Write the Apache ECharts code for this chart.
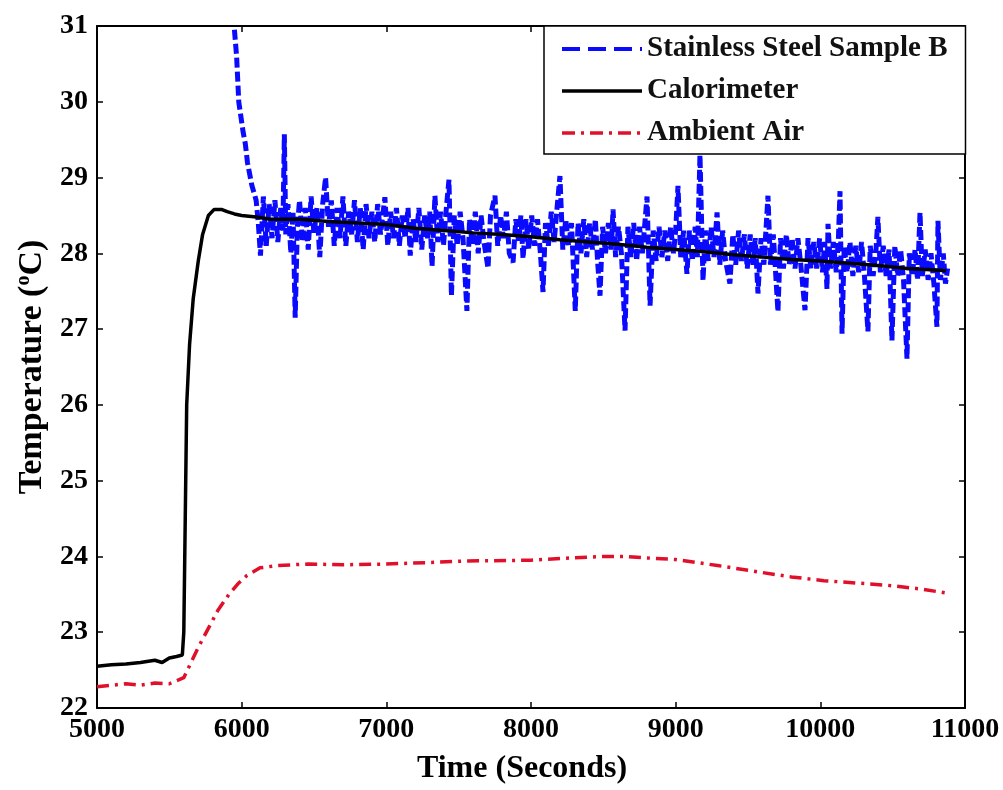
<!DOCTYPE html>
<html>
<head>
<meta charset="utf-8">
<script src="https://cdn.jsdelivr.net/npm/echarts@6/dist/echarts.min.js"></script>
<style>
html,body{margin:0;padding:0;background:#fff;}
#chart{width:1003px;height:790px;}
</style>
</head>
<body>
<div id="chart"></div>
<script>
// ---- Data ----
const seriesNames = ['Stainless Steel Sample B', 'Calorimeter', 'Ambient Air'];

const xTickValues = [5000, 6000, 7000, 8000, 9000, 10000, 11000];
const yTickValues = [22, 23, 24, 25, 26, 27, 28, 29, 30, 31];

// Stainless steel sample B: [time (s), temperature (°C)]
const sampleB = [
  [5950,30.95],[5965,30.6],[5980,30.0],[5995,29.8],[6010,29.6],[6025,29.45],[6040,29.2],[6055,29.05],
  [6070,28.9],[6085,28.8],[6100,28.7],[6115,28.4],
  [6130,27.97],[6150,28.75],[6170,28.1],[6190,28.65],[6210,28.2],[6230,28.7],[6250,28.15],[6270,28.6],[6285,28.3],[6295,29.57],[6305,28.25],
  [6320,28.65],[6340,28.0],[6355,28.55],[6370,27.15],[6385,28.35],[6400,28.7],[6420,28.15],[6440,28.6],[6460,28.05],[6480,28.75],[6500,28.25],
  [6520,28.6],[6540,27.95],[6560,28.65],[6580,29.0],[6600,28.35],[6620,28.7],[6640,28.1],[6660,28.6],[6680,28.2],[6700,28.75],
  [6720,28.1],[6740,28.55],[6760,28.25],[6780,28.7],[6800,28.15],[6820,28.6],[6840,28.05],[6860,28.65],[6880,28.2],[6900,28.55],
  [6920,28.15],[6940,28.65],[6960,28.25],[6990,28.74],[7010,28.1],[7030,28.55],[7050,28.2],[7070,28.6],[7090,28.1],[7110,28.5],
  [7130,28.2],[7150,28.6],[7165,27.97],[7185,28.45],[7205,28.15],[7225,28.6],[7245,28.05],[7265,28.5],[7285,28.2],[7300,28.55],
  [7316,27.83],[7336,28.76],[7355,28.15],[7375,28.55],[7395,28.1],[7415,28.6],[7433,28.97],[7450,27.44],[7470,28.5],[7490,28.1],
  [7510,28.55],[7530,28.2],[7557,27.24],[7575,28.45],[7595,28.1],[7615,28.55],[7635,28.0],[7655,28.5],[7675,28.15],[7703,27.8],
  [7720,28.5],[7751,28.76],[7770,28.1],[7790,28.5],[7810,28.2],[7830,28.55],[7850,28.0],[7876,27.88],[7895,28.45],[7915,28.15],
  [7930,28.5],[7945,27.93],[7965,28.45],[7985,28.05],[8005,28.5],[8025,28.1],[8045,28.45],[8065,28.0],[8083,27.49],[8100,28.4],
  [8120,28.1],[8140,28.55],[8160,28.15],[8180,28.6],[8200,29.02],[8220,28.05],[8240,28.45],[8260,28.1],[8280,28.4],[8306,27.24],
  [8325,28.4],[8345,28.0],[8365,28.45],[8385,27.95],[8405,28.4],[8425,28.05],[8445,28.45],[8460,27.9],[8477,27.44],[8495,28.35],
  [8515,28.0],[8535,28.4],[8555,28.05],[8567,28.58],[8585,27.95],[8605,28.35],[8625,28.0],[8650,26.98],[8670,28.35],[8690,27.95],
  [8710,28.4],[8730,27.9],[8750,28.35],[8770,28.0],[8802,28.75],[8823,27.31],[8845,28.3],[8865,27.9],[8885,28.35],[8905,27.95],
  [8925,28.3],[8945,27.9],[8965,28.35],[8985,28.0],[9000,28.3],[9016,28.89],[9035,27.95],[9055,28.3],[9078,27.73],[9095,28.3],
  [9115,27.9],[9135,28.35],[9150,27.95],[9168,29.3],[9189,27.64],[9205,28.3],[9225,27.9],[9245,28.35],[9265,27.95],[9286,28.54],
  [9305,27.85],[9325,28.3],[9345,27.9],[9375,27.6],[9395,28.25],[9415,27.85],[9435,28.3],[9455,27.9],[9475,28.25],[9495,27.8],
  [9515,28.25],[9535,27.85],[9550,28.2],[9569,27.47],[9590,28.2],[9610,27.85],[9638,28.76],[9655,27.85],[9675,28.25],[9707,27.23],
  [9725,28.2],[9745,27.8],[9765,28.25],[9785,27.85],[9805,28.2],[9825,27.8],[9845,28.2],[9865,27.85],[9894,27.25],[9915,28.2],
  [9935,27.8],[9955,28.15],[9975,27.8],[9995,28.2],[10015,27.75],[10030,28.15],[10046,27.53],[10053,28.39],[10070,27.8],[10090,28.15],
  [10110,27.75],[10125,28.2],[10136,28.82],[10150,26.94],[10165,28.1],[10185,27.75],[10205,28.15],[10225,27.7],[10245,28.1],[10265,27.75],
  [10285,28.15],[10305,27.7],[10329,26.97],[10345,28.1],[10365,27.7],[10385,28.05],[10398,28.48],[10415,27.75],[10435,28.1],[10455,27.7],
  [10475,28.05],[10495,26.85],[10515,28.1],[10535,27.7],[10555,28.05],[10575,27.65],[10599,26.61],[10615,28.0],[10635,27.7],[10655,28.05],
  [10672,27.65],[10689,28.54],[10705,27.7],[10725,28.05],[10745,27.65],[10765,28.0],[10785,27.6],[10806,27.03],[10813,28.43],[10830,27.65],
  [10850,28.0],[10865,27.6],[10880,27.8]
];

// Calorimeter: [time (s), temperature (°C)]
const calorimeter = [
  [5000,22.55],[5100,22.57],[5200,22.58],[5300,22.6],[5400,22.63],[5450,22.6],[5500,22.66],[5550,22.68],
  [5590,22.7],[5600,23.0],[5610,24.5],[5620,26.0],[5640,26.8],[5665,27.4],[5700,27.9],[5730,28.25],
  [5770,28.5],[5810,28.58],[5860,28.58],[5900,28.55],[5950,28.52],[6000,28.5],[6100,28.48],[6200,28.45],
  [6400,28.45],[6600,28.42],[6800,28.4],[7000,28.38],[7200,28.33],[7400,28.3],[7600,28.27],[7800,28.25],
  [8000,28.22],[8200,28.18],[8400,28.15],[8600,28.12],[8800,28.08],[9000,28.05],[9200,28.02],[9400,27.98],
  [9600,27.95],[9800,27.92],[10000,27.9],[10200,27.87],[10400,27.84],[10600,27.8],[10800,27.78],[10870,27.77]
];

// Ambient air: [time (s), temperature (°C)]
const ambientAir = [
  [5000,22.28],[5100,22.3],[5200,22.32],[5300,22.3],[5400,22.33],[5500,22.32],[5600,22.4],[5700,22.8],
  [5836,23.29],[5912,23.5],[5980,23.65],[6037,23.75],[6127,23.85],[6250,23.88],[6459,23.9],[6700,23.89],
  [7000,23.9],[7300,23.92],[7550,23.94],[8000,23.95],[8277,23.98],[8500,24.0],[8640,24.0],[8800,23.98],
  [9000,23.96],[9290,23.88],[9590,23.79],[9800,23.73],[10025,23.68],[10250,23.65],[10460,23.62],[10700,23.57],
  [10860,23.52]
];

// ---- Chart ----
const FONT = '"Liberation Serif", "Times New Roman", serif';
const BLUE = '#0a0aff', RED = '#e0102a';
const chart = echarts.init(document.getElementById('chart'), null, {renderer: 'canvas'});

const axisCommon = {
  axisLine: {show: true, onZero: false, lineStyle: {color: '#000', width: 2}},
  axisTick: {show: true, inside: true, length: 6, lineStyle: {color: '#000', width: 1.5}},
  splitLine: {show: false}
};

const option = {
  backgroundColor: '#fff',
  animation: false,
  grid: {left: 97, right: 38, top: 26, bottom: 79, containLabel: false},
  legend: {
    data: [
      {name: seriesNames[0], lineStyle: {color: BLUE, width: 4, type: [18, 8]}},
      {name: seriesNames[1], lineStyle: {color: '#000', width: 3.5, type: 'solid'}},
      {name: seriesNames[2], lineStyle: {color: RED, width: 3.5, type: [13, 6, 3, 6]}}
    ],
    orient: 'vertical',
    left: 544,
    top: 26,
    backgroundColor: '#fff',
    borderColor: '#000',
    borderWidth: 1.5,
    borderRadius: 0,
    padding: [8, 18, 6, 16],
    itemGap: 12,
    itemWidth: 80,
    itemHeight: 20,
    itemStyle: {opacity: 0},
    textStyle: {fontFamily: FONT, fontWeight: 'bold', fontSize: 29, lineHeight: 30, color: '#111'}
  },
  xAxis: [
    Object.assign({
      type: 'value', min: 5000, max: 11000, interval: 1000, position: 'bottom',
      name: 'Time (Seconds)', nameLocation: 'middle', nameGap: 45,
      nameTextStyle: {fontFamily: FONT, fontWeight: 'bold', fontSize: 32, color: '#000', padding: [0, 18, 0, 0]},
      axisLabel: {fontFamily: FONT, fontWeight: 'bold', fontSize: 28, color: '#000', margin: 8,
        formatter: v => xTickValues.includes(v) ? String(v) : ''}
    }, axisCommon),
    Object.assign({
      type: 'value', min: 5000, max: 11000, interval: 1000, position: 'top',
      axisLabel: {show: false}
    }, axisCommon)
  ],
  yAxis: [
    Object.assign({
      type: 'value', min: 22, max: 31, interval: 1, position: 'left',
      name: '{a|Temperature (}{s|o}{a|C)}', nameLocation: 'middle', nameGap: 42, nameRotate: 90,
      nameTextStyle: {
        rich: {
          a: {fontFamily: FONT, fontWeight: 'bold', fontSize: 34, color: '#000'},
          s: {fontFamily: FONT, fontWeight: 'bold', fontSize: 20, color: '#000', padding: [0, 0, 16, 0]}
        }
      },
      axisLabel: {fontFamily: FONT, fontWeight: 'bold', fontSize: 28, color: '#000', margin: 9,
        formatter: v => yTickValues.includes(v) ? String(v) : ''}
    }, axisCommon),
    Object.assign({
      type: 'value', min: 22, max: 31, interval: 1, position: 'right',
      axisLabel: {show: false}
    }, axisCommon)
  ],
  series: [
    {
      name: seriesNames[0], type: 'line', data: sampleB, xAxisIndex: 0, yAxisIndex: 0,
      symbol: 'none', clip: true,
      lineStyle: {color: BLUE, width: 5, type: [10, 4]},
      itemStyle: {color: BLUE}, z: 2
    },
    {
      name: seriesNames[1], type: 'line', data: calorimeter, xAxisIndex: 0, yAxisIndex: 0,
      symbol: 'none',
      lineStyle: {color: '#000', width: 3.5, type: 'solid'},
      itemStyle: {color: '#000'}, z: 3
    },
    {
      name: seriesNames[2], type: 'line', data: ambientAir, xAxisIndex: 0, yAxisIndex: 0,
      symbol: 'none',
      lineStyle: {color: RED, width: 3.5, type: [12, 6, 3, 6]},
      itemStyle: {color: RED}, z: 3
    }
  ]
};
chart.setOption(option);
</script>
</body>
</html>
